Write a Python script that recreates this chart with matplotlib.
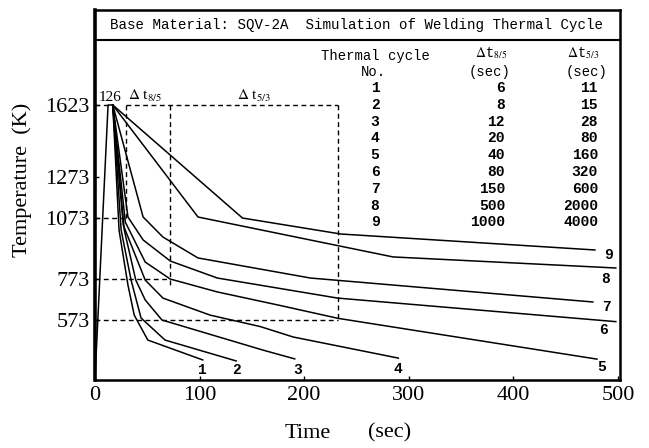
import matplotlib
matplotlib.use('Agg')
import matplotlib.pyplot as plt

plt.rcParams['mathtext.fontset'] = 'stix'

# ---------------- data ----------------
cycle_no = [1, 2, 3, 4, 5, 6, 7, 8, 9]
dt85 = [6, 8, 12, 20, 40, 80, 150, 500, 1000]
dt53 = [11, 15, 28, 80, 160, 320, 600, 2000, 4000]

heat_t = [0, 12.5, 17]
heat_T = [285, 1623, 1623]

c1_t = [17, 23, 31.5, 37.5, 50.5, 103]
c1_T = [1623, 1012, 744, 597, 475, 378]
c2_t = [17, 25, 34.5, 44, 67, 135]
c2_T = [1623, 1012, 768, 583, 475, 373]
c3_t = [17, 28, 39, 48, 64, 160, 191]
c3_T = [1623, 1012, 768, 671, 573, 427, 383]
c4_t = [17, 27, 48, 65, 110, 158, 189.5, 290]
c4_T = [1623, 1037, 768, 680, 597, 541, 490, 387]
c5_t = [17, 29, 48, 72, 117, 177, 232.5, 480]
c5_T = [1623, 1051, 856, 773, 710, 644, 581, 382]
c6_t = [17, 31.5, 46, 72, 117, 232, 498]
c6_T = [1623, 1076, 964, 861, 778, 680, 565]
c7_t = [17, 46, 65, 98.5, 206, 476]
c7_T = [1623, 1076, 978, 876, 778, 661]
c8_t = [17, 98.5, 285, 498]
c8_T = [1623, 1076, 881, 827]
c9_t = [17, 141, 235, 478]
c9_T = [1623, 1071, 993, 915]

curves_t = [c1_t, c2_t, c3_t, c4_t, c5_t, c6_t, c7_t, c8_t, c9_t]
curves_T = [c1_T, c2_T, c3_T, c4_T, c5_T, c6_T, c7_T, c8_T, c9_T]

# reference temperatures and the times marking dt8/5 and dt5/3 (cycle 5)
T_peak, T_800, T_500, T_300 = 1623, 1073, 773, 573
t_peak_start, t_800, t_500, t_300 = 12.5, 29.5, 72, 232.5

xticks = [0, 100, 200, 300, 400, 500]
yticks = [573, 773, 1073, 1273, 1623]

# label anchor positions for the curve numbers (data coords)
label_t = [102, 135, 194, 290, 484, 486, 489, 488, 491]
label_T = [329, 329, 329, 334, 343, 524, 636, 773, 890]

# ---------------- figure ----------------
W, H = 649, 448
fig = plt.figure(figsize=(W / 100, H / 100), dpi=100)
ax = fig.add_axes([95 / W, 1 - 380 / H, (620 - 95) / W, (380 - 10) / H])

def px(x, y):
    return x / W, 1 - y / H

mono = 'Liberation Mono'
serif = 'Liberation Serif'

ax.plot(heat_t, heat_T, color='black', lw=1.1)
for ct, cT in zip(curves_t, curves_T):
    ax.plot(ct, cT, color='black', lw=1.1)

dash = dict(color='black', lw=1.0, ls=(0, (3.5, 2.5)))
ax.plot([0, t_peak_start], [T_peak, T_peak], **dash)
ax.plot([t_800, t_300], [T_peak, T_peak], **dash)
ax.plot([0, t_800], [T_800, T_800], **dash)
ax.plot([0, t_500], [T_500, T_500], **dash)
ax.plot([0, t_300], [T_300, T_300], **dash)
ax.plot([t_800, t_800], [T_peak, T_800], **dash)
ax.plot([t_500, t_500], [T_peak, T_500 - 35], **dash)
ax.plot([t_300, t_300], [T_peak, T_300], **dash)

ax.set_xlim(0, 502)
ax.set_ylim(280, 2087)
ax.set_xticks(xticks)
ax.set_yticks(yticks)
ax.set_xticklabels([str(v) for v in xticks], fontsize=16, family=serif)
ax.set_yticklabels([str(v) for v in yticks], fontsize=16, family=serif)
ax.tick_params(direction='in', length=3, width=1, pad=4)
for s in ['top', 'right', 'bottom']:
    ax.spines[s].set_linewidth(1.8)
ax.spines['left'].set_linewidth(2.6)

# title box
ax.plot([0, 1], [1 - 30 / 370, 1 - 30 / 370], transform=ax.transAxes,
        color='black', lw=1.5, clip_on=False)
fig.text(*px(357, 25), 'Base Material: SQV-2A  Simulation of Welding Thermal Cycle',
         family=mono, fontsize=10.2, ha='center', va='center')

# table
fig.text(*px(375, 56), 'Thermal cycle', family=mono, fontsize=10, ha='center', va='center')
fig.text(*px(373, 72), 'No.', family=mono, fontsize=10, ha='center', va='center')
fig.text(*px(491, 53), r'$\Delta$t$_{8/5}$', family=mono, fontsize=10, ha='center', va='center')
fig.text(*px(490, 72), '(sec)', family=mono, fontsize=10, ha='center', va='center')
fig.text(*px(583, 53), r'$\Delta$t$_{5/3}$', family=mono, fontsize=10, ha='center', va='center')
fig.text(*px(587, 72), '(sec)', family=mono, fontsize=10, ha='center', va='center')
for i, (n, a, b) in enumerate(zip(cycle_no, dt85, dt53)):
    y = 88 + 16.8 * i
    fig.text(*px(375, y), str(n), family=mono, fontsize=10.5, weight='bold', ha='center', va='center')
    fig.text(*px(505, y), str(a), family=mono, fontsize=10.5, weight='bold', ha='right', va='center')
    fig.text(*px(598, y), str(b), family=mono, fontsize=10.5, weight='bold', ha='right', va='center')

# annotations near peak
fig.text(*px(110, 97), '126', family=serif, fontsize=11, ha='center', va='center')
fig.text(*px(128, 96), r'$\Delta$ t$_{8/5}$', family=serif, fontsize=11, ha='left', va='center')
fig.text(*px(237, 96), r'$\Delta$ t$_{5/3}$', family=serif, fontsize=11, ha='left', va='center')

# curve number labels
for n, lt, lT in zip(cycle_no, label_t, label_T):
    ax.text(lt, lT, str(n), family=mono, fontsize=10.5, weight='bold', ha='center', va='center')

# axis labels
fig.text(*px(22, 180), 'Temperature  (K)', family=serif, fontsize=16, rotation=90,
         ha='center', va='center')
fig.text(*px(308, 433), 'Time', family=serif, fontsize=16, ha='center', va='center')
fig.text(*px(390, 433), '(sec)', family=serif, fontsize=16, ha='center', va='center')

fig.savefig('out.png', dpi=100, facecolor='white')
